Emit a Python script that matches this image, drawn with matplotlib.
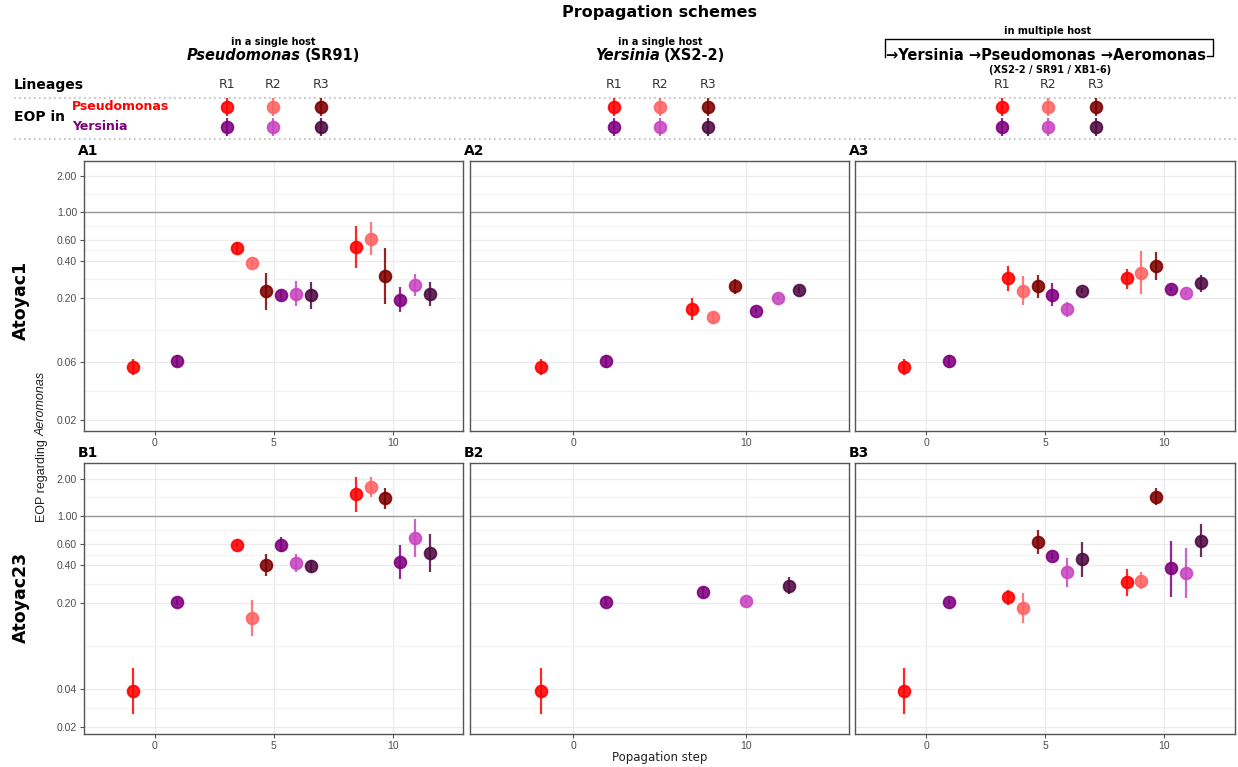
import numpy as np
import matplotlib.pyplot as plt
from matplotlib.lines import Line2D

# ---- data -------------------------------------------------------------
# point order in a panel: step 0 (Pseudomonas, Yersinia), then for every
# later step Pseudomonas R1..R3 followed by Yersinia R1..R3
steps_13 = [0, 0, 5, 5, 5, 5, 5, 5, 10, 10, 10, 10, 10, 10]
hosts_13 = ['P', 'Y', 'P', 'P', 'P', 'Y', 'Y', 'Y', 'P', 'P', 'P', 'Y', 'Y', 'Y']
lins_13 = ['R1', 'R1', 'R1', 'R2', 'R3', 'R1', 'R2', 'R3', 'R1', 'R2', 'R3', 'R1', 'R2', 'R3']

steps_2 = [0, 0, 10, 10, 10, 10, 10, 10]
hosts_2 = ['P', 'Y', 'P', 'P', 'P', 'Y', 'Y', 'Y']
lins_2 = ['R1', 'R1', 'R1', 'R2', 'R3', 'R1', 'R2', 'R3']

nan = np.nan

# Atoyac1
a1_eop = [0.0545, 0.0605, 0.507, 0.382, 0.226, 0.212, 0.216, 0.210, 0.523, 0.608, 0.300, 0.193, 0.253, 0.214]
a1_lo = [0.047, 0.054, 0.453, 0.360, 0.160, 0.190, 0.171, 0.163, 0.351, 0.447, 0.179, 0.152, 0.206, 0.170]
a1_hi = [0.0625, 0.0675, 0.568, 0.405, 0.320, 0.233, 0.273, 0.270, 0.773, 0.834, 0.507, 0.245, 0.312, 0.270]

a2_eop = [0.0545, 0.0605, 0.161, 0.138, 0.248, 0.157, 0.201, 0.232]
a2_lo = [0.047, 0.053, 0.131, 0.123, 0.216, 0.150, 0.193, 0.220]
a2_hi = [0.0625, 0.068, 0.201, 0.153, 0.284, 0.164, 0.209, 0.245]

a3_eop = [0.0545, 0.0605, 0.289, 0.229, 0.248, 0.212, 0.161, 0.229, 0.290, 0.322, 0.365, 0.238, 0.218, 0.262]
a3_lo = [0.047, 0.053, 0.227, 0.173, 0.201, 0.171, 0.138, 0.218, 0.238, 0.214, 0.279, 0.228, 0.210, 0.221]
a3_hi = [0.0625, 0.068, 0.363, 0.302, 0.306, 0.262, 0.185, 0.240, 0.347, 0.482, 0.475, 0.248, 0.226, 0.306]

# Atoyac23
b1_eop = [0.0388, 0.204, 0.588, 0.151, 0.401, 0.590, 0.418, 0.393, 1.50, 1.72, 1.39, 0.426, 0.661, 0.500]
b1_lo = [0.0253, 0.192, 0.560, 0.108, 0.328, 0.510, 0.352, 0.350, 1.08, 1.43, 1.15, 0.312, 0.465, 0.352]
b1_hi = [0.0592, 0.216, 0.615, 0.210, 0.491, 0.681, 0.493, 0.442, 2.07, 2.07, 1.67, 0.580, 0.940, 0.711]

b2_eop = [0.0388, 0.204, nan, nan, nan, 0.243, 0.206, 0.274]
b2_lo = [0.0253, 0.190, nan, nan, nan, 0.217, 0.198, 0.234]
b2_hi = [0.0592, 0.220, nan, nan, nan, 0.269, 0.214, 0.321]

b3_eop = [0.0388, 0.204, 0.224, 0.182, 0.614, 0.479, 0.352, 0.448, 0.292, 0.301, 1.43, 0.379, 0.349, 0.632]
b3_lo = [0.0253, 0.194, 0.191, 0.138, 0.491, 0.455, 0.266, 0.324, 0.228, 0.257, 1.23, 0.221, 0.219, 0.465]
b3_hi = [0.0592, 0.214, 0.253, 0.241, 0.771, 0.505, 0.461, 0.614, 0.372, 0.356, 1.67, 0.632, 0.550, 0.863]

yticks_a = [0.02, 0.06, 0.2, 0.4, 0.6, 1, 2]
yticks_b = [0.02, 0.04, 0.2, 0.4, 0.6, 1, 2]

lineages = ['R1', 'R2', 'R3']
colors = {
    ('P', 'R1'): '#FF0000', ('P', 'R2'): '#FF6363', ('P', 'R3'): '#7D0000',
    ('Y', 'R1'): '#7F007F', ('Y', 'R2'): '#C846C0', ('Y', 'R3'): '#4E0A42',
}

# ---- figure -----------------------------------------------------------
W, H = 1238, 767
fig = plt.figure(figsize=(W / 100, H / 100), dpi=100)


def px_axes(left, right, top, bottom):
    return fig.add_axes([left / W, 1 - bottom / H, (right - left) / W, (bottom - top) / H])


def draw_panel(ax, steps, hosts, lins, eop, lo, hi, dodge, xlim, xticks, yticks, ylim, show_y):
    steps = np.array(steps)
    eop = np.array(eop, float)
    x = np.full(len(steps), np.nan)
    for s in np.unique(steps):
        idx = np.where((steps == s) & ~np.isnan(eop))[0]
        n = len(idx)
        x[idx] = s + (np.arange(n) - (n - 1) / 2) * dodge / n
    ax.set_yscale('log')
    ax.axhline(1, color='#9A9A9A', lw=1.0, zorder=2)
    for i in range(len(steps)):
        if np.isnan(eop[i]):
            continue
        c = colors[(hosts[i], lins[i])]
        ax.vlines(x[i], lo[i], hi[i], color=c, lw=1.6, alpha=0.85, zorder=3)
        ax.plot(x[i], eop[i], 'o', ms=8.5, color=c, mec=c, mew=1.3, alpha=0.88, zorder=4)
    ax.set_xlim(*xlim)
    ax.set_ylim(*ylim)
    ax.set_xticks(xticks)
    ax.set_xticklabels([str(t) for t in xticks])
    ax.set_yticks(yticks)
    ax.set_yticks([np.sqrt(a * b) for a, b in zip(yticks[:-1], yticks[1:])], minor=True)
    ax.yaxis.set_minor_formatter(plt.NullFormatter())
    ax.xaxis.set_minor_locator(plt.NullLocator())
    ax.grid(which='major', color='#EBEBEB', lw=0.9, zorder=0)
    ax.grid(which='minor', axis='y', color='#F3F3F3', lw=0.9, zorder=0)
    ax.set_axisbelow(True)
    ax.tick_params(which='minor', length=0)
    ax.tick_params(which='major', length=3, width=0.8, color='#555555',
                   labelsize=7.5, labelcolor='#4D4D4D', pad=2)
    for lab in ax.get_xticklabels() + ax.get_yticklabels():
        lab.set_fontfamily('Liberation Sans')
    if show_y:
        ax.set_yticklabels(['%.2f' % t for t in yticks])
    else:
        ax.tick_params(axis='y', which='both', left=False, labelleft=False)
    for sp in ax.spines.values():
        sp.set_color('#555555')
        sp.set_linewidth(1.0)


cols_px = [(84, 463), (470, 849), (855, 1235)]
rows_px = [(161, 431), (463, 734)]
xlims = [(-2.98, 12.95), (-6.0, 16.0), (-3.0, 13.0)]
xticks = [[0, 5, 10], [0, 10], [0, 5, 10]]
dodges = [3.75, 7.5, 3.75]
ylims = [(0.0162, 2.64), (0.0175, 2.68)]

panel_data = [
    [(steps_13, hosts_13, lins_13, a1_eop, a1_lo, a1_hi),
     (steps_2, hosts_2, lins_2, a2_eop, a2_lo, a2_hi),
     (steps_13, hosts_13, lins_13, a3_eop, a3_lo, a3_hi)],
    [(steps_13, hosts_13, lins_13, b1_eop, b1_lo, b1_hi),
     (steps_2, hosts_2, lins_2, b2_eop, b2_lo, b2_hi),
     (steps_13, hosts_13, lins_13, b3_eop, b3_lo, b3_hi)],
]
panel_tags = [['A1', 'A2', 'A3'], ['B1', 'B2', 'B3']]
row_yticks = [yticks_a, yticks_b]

for r, (top, bottom) in enumerate(rows_px):
    for c, (left, right) in enumerate(cols_px):
        ax = px_axes(left, right, top, bottom)
        draw_panel(ax, *panel_data[r][c], dodges[c], xlims[c], xticks[c],
                   row_yticks[r], ylims[r], c == 0)

# ---- header / annotations on a pixel-coordinate overlay ---------------
hdr = fig.add_axes([0, 0, 1, 1])
hdr.set_xlim(0, W)
hdr.set_ylim(H, 0)
hdr.axis('off')
renderer = fig.canvas.get_renderer()
bold = dict(fontweight='bold', family='DejaVu Sans')


def two_part(xc, y, parts, size, gap=4):
    texts = [hdr.text(0, y, s, fontsize=size, fontstyle=st, ha='left', va='center', **bold)
             for s, st in parts]
    widths = [t.get_window_extent(renderer).width for t in texts]
    x = xc - (sum(widths) + gap * (len(widths) - 1)) / 2
    for t, w in zip(texts, widths):
        t.set_x(x)
        x += w + gap


hdr.text(660, 12, 'Propagation schemes', fontsize=11.5, ha='center', va='center', **bold)

col_centers = [273, 660, 1048]
lin_offsets = [-46, 0, 48]

hdr.text(col_centers[0], 42, 'in a single host', fontsize=7, ha='center', va='center', **bold)
two_part(col_centers[0], 55, [('Pseudomonas', 'italic'), ('(SR91)', 'normal')], 10.5)
hdr.text(col_centers[1], 42, 'in a single host', fontsize=7, ha='center', va='center', **bold)
two_part(col_centers[1], 55, [('Yersinia', 'italic'), ('(XS2-2)', 'normal')], 10.5)

hdr.text(1048, 31, 'in multiple host', fontsize=7, ha='center', va='center', **bold)
t = hdr.text(1046, 55, '→Yersinia →Pseudomonas →Aeromonas', fontsize=10.5,
             ha='center', va='center', **bold)
bb = t.get_window_extent(renderer)
x0, x1 = bb.x0, bb.x1
hdr.add_line(Line2D([x0 - 1, x0 - 1, x1 + 7, x1 + 7, x1 + 1], [57, 39, 39, 56, 56],
                    color='black', lw=1.0))
hdr.text(1050, 70, '(XS2-2 / SR91 / XB1-6)', fontsize=7, ha='center', va='center', **bold)

hdr.text(14, 85, 'Lineages', fontsize=10, ha='left', va='center', **bold)
hdr.text(14, 117, 'EOP in', fontsize=10, ha='left', va='center', **bold)
hdr.text(72, 107, 'Pseudomonas', fontsize=9, color='#FF0000', ha='left', va='center', **bold)
hdr.text(72, 127, 'Yersinia', fontsize=9, color='#7F007F', ha='left', va='center', **bold)

for yline in [98, 139]:
    hdr.add_line(Line2D([14, W], [yline, yline], color='#BBBBBB', lw=1.2, ls=(0, (1, 2))))

row_y = {'P': 107, 'Y': 127}
for xc in col_centers:
    for lin, off in zip(lineages, lin_offsets):
        hdr.text(xc + off, 85, lin, fontsize=9, color='#333333', ha='center', va='center',
                 family='DejaVu Sans')
        for host in ['P', 'Y']:
            c = colors[(host, lin)]
            hdr.vlines(xc + off, row_y[host] - 9, row_y[host] + 9, color=c, lw=1.6, alpha=0.85)
            hdr.plot(xc + off, row_y[host], 'o', ms=8.5, color=c, mec=c, mew=1.3, alpha=0.88)

# panel tags
for r, (top, bottom) in enumerate(rows_px):
    for c, (left, right) in enumerate(cols_px):
        hdr.text(left - 6, top - 10, panel_tags[r][c], fontsize=10, ha='left', va='center', **bold)

# strain labels and axis titles
hdr.text(21, 300, 'Atoyac1', fontsize=12.5, rotation=90, ha='center', va='center', **bold)
hdr.text(21, 597, 'Atoyac23', fontsize=12.5, rotation=90, ha='center', va='center', **bold)
hdr.text(42, 436, 'EOP regarding ', fontsize=9, rotation=90, ha='center', va='top',
         family='Liberation Sans', color='#222222')
hdr.text(42, 436, 'Aeromonas', fontsize=9, rotation=90, ha='center', va='bottom',
         family='Liberation Sans', fontstyle='italic', color='#222222')
hdr.text(660, 758, 'Popagation step', fontsize=8.5, ha='center', va='center',
         family='DejaVu Sans', color='#222222')

fig.savefig('out.png', dpi=100)
